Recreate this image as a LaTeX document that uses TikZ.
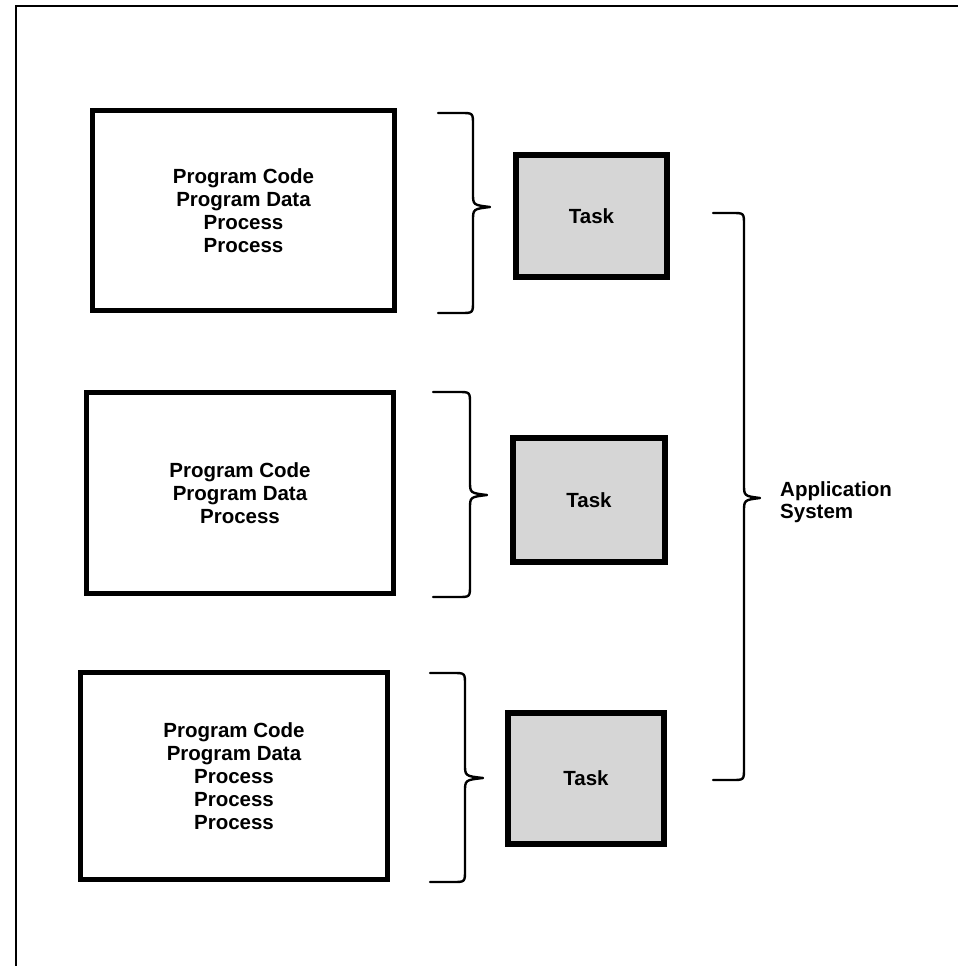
\documentclass[tikz,border=0pt]{standalone}
\usepackage{fontspec}
\setmainfont{Liberation Sans}
\definecolor{taskgray}{RGB}{214,214,214}
\newcommand\mybrace[6]{% x0, xv, xt, y0, ym, y1
  \draw[bracestyle] (#1,#4) -- ({#2-12},#4) .. controls (#2,#4) .. (#2,{#4+12})
    -- (#2,{#5-14}) .. controls (#2,{#5-2}) .. (#3,#5)
    .. controls (#2,{#5+2}) .. (#2,{#5+14})
    -- (#2,{#6-12}) .. controls (#2,#6) .. ({#2-12},#6) -- (#1,#6);}
\begin{document}
\begin{tikzpicture}[x=1pt,y=-1pt,
  progbox/.style={draw,line width=5pt,inner sep=0pt,align=center,
    font=\fontsize{20.5}{23}\selectfont\bfseries},
  taskbox/.style={draw,line width=6pt,fill=taskgray,inner sep=0pt,
    font=\fontsize{20.5}{23}\selectfont\bfseries},
  bracestyle/.style={line width=2.4pt,line cap=round,line join=round},
  framestyle/.style={line width=2pt}]
\useasboundingbox (0,0) rectangle (958,966);
\draw[framestyle] (16,966) -- (16,6) -- (958,6);

\node[progbox,minimum width=302pt,minimum height=200pt] (b1) at (243.5,210.5)
  {Program Code\\Program Data\\Process\\Process};
\node[progbox,minimum width=307pt,minimum height=201pt] (b2) at (240,493)
  {Program Code\\Program Data\\Process};
\node[progbox,minimum width=307pt,minimum height=207pt] (b3) at (234,776)
  {Program Code\\Program Data\\Process\\Process\\Process};

\node[taskbox,minimum width=151pt,minimum height=122pt] (t1) at (591.5,216) {Task};
\node[taskbox,minimum width=152pt,minimum height=124pt] (t2) at (589,500) {Task};
\node[taskbox,minimum width=156pt,minimum height=131pt] (t3) at (586,778) {Task};

\mybrace{438}{473}{490}{113}{207}{313}
\mybrace{433}{470}{487}{392}{495}{597}
\mybrace{430}{465}{483}{673}{778}{882}
\mybrace{713}{744}{760}{213}{498}{780}

\node[anchor=west,align=left,inner sep=0pt,
  font=\fontsize{20.5}{21.5}\selectfont\bfseries] (app) at (780,502)
  {Application\\System};
\end{tikzpicture}
\end{document}
